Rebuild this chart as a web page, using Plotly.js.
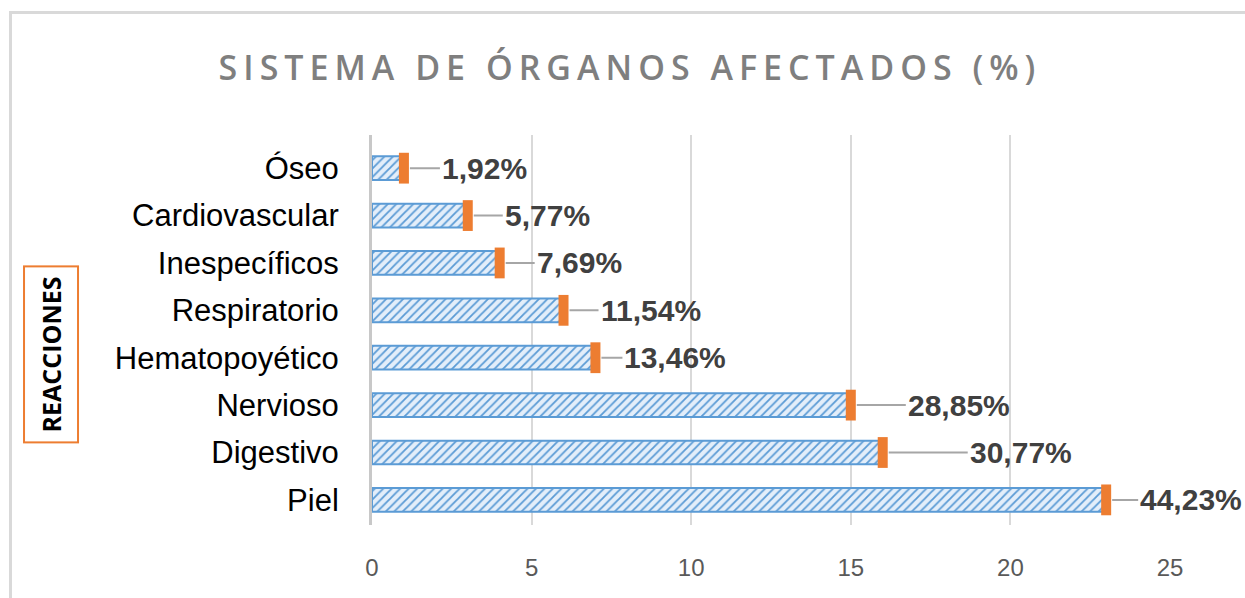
<!DOCTYPE html>
<html>
<head>
<meta charset="utf-8">
<script src="https://cdn.plot.ly/plotly-3.0.1.min.js"></script>
<style>
  html, body { margin: 0; padding: 0; background: #fff; overflow: hidden; }
  #chart { position: fixed; left: 0; top: 0; width: 1245px; height: 598px; }
  .gtitle { letter-spacing: 6px; }
</style>
</head>
<body>
<div id="chart"></div>
<script>
// Data (bottom to top)
const categories = ['Piel', 'Digestivo', 'Nervioso', 'Hematopoyético', 'Respiratorio', 'Inespecíficos', 'Cardiovascular', 'Óseo'];
const counts = [23, 16, 15, 7, 6, 4, 3, 1];
const percentLabels = ['44,23%', '30,77%', '28,85%', '13,46%', '11,54%', '7,69%', '5,77%', '1,92%'];
const xTicks = [0, 5, 10, 15, 20, 25];

// Styling only: horizontal offset (px) of each data label from its bar end
const labelShift = [32, 85, 55, 27, 35, 35, 35, 36];

const W = 1245, H = 598, M = { l: 372, r: 75, t: 135, b: 73 };
const pw = W - M.l - M.r, ph = H - M.t - M.b;
const px2paperX = px => (px - M.l) / pw;
const px2paperY = py => (H - M.b - py) / ph;

const bars = {
  type: 'bar',
  orientation: 'h',
  y: categories,
  x: counts,
  width: 0.5,
  marker: {
    color: '#deebf7',
    pattern: { shape: '/', fgcolor: '#5b9bd5', bgcolor: '#e3eefa', size: 6, solidity: 0.3 },
    line: { color: '#5b9bd5', width: 2 }
  },
  hoverinfo: 'skip'
};

const caps = {
  type: 'scatter',
  mode: 'markers',
  y: categories,
  x: counts,
  marker: { symbol: 'line-ns', size: 22, line: { color: '#ed7d31', width: 10 } },
  hoverinfo: 'skip',
  cliponaxis: false
};

const annotations = categories.map((c, i) => ({
  x: counts[i], y: c, xref: 'x', yref: 'y',
  text: percentLabels[i],
  showarrow: true, arrowhead: 0, arrowwidth: 2, arrowcolor: '#a6a6a6',
  ax: labelShift[i], ay: 0, xanchor: 'left', standoff: 6,
  font: { family: 'Liberation Sans, Arial, sans-serif', size: 30, color: '#404040', weight: 'bold' }
}));

annotations.push({
  xref: 'paper', yref: 'paper', x: -0.402, y: 0.438,
  xanchor: 'center', yanchor: 'middle',
  text: 'REACCIONES', showarrow: false, textangle: -90,
  font: { family: 'Open Sans, sans-serif', size: 25, color: '#000000', weight: 'bold' },
  bordercolor: '#ed7d31', borderwidth: 2, borderpad: 9, bgcolor: '#ffffff'
});

// Outer chart frame (left and top edges visible)
const shapes = [
  { type: 'line', xref: 'paper', yref: 'paper', layer: 'below',
    x0: px2paperX(10.5), x1: px2paperX(10.5), y0: px2paperY(12), y1: px2paperY(H + 5),
    line: { color: '#d9d9d9', width: 3 } },
  { type: 'line', xref: 'paper', yref: 'paper', layer: 'below',
    x0: px2paperX(9), x1: px2paperX(W + 5), y0: px2paperY(12.5), y1: px2paperY(12.5),
    line: { color: '#d9d9d9', width: 3 } }
];

const layout = {
  width: W, height: H,
  margin: M,
  paper_bgcolor: '#ffffff',
  plot_bgcolor: 'rgba(0,0,0,0)',
  showlegend: false,
  title: {
    text: 'SISTEMA DE ÓRGANOS AFECTADOS (%)',
    xref: 'container', yref: 'container', x: 0.506, y: 0.886, xanchor: 'center', yanchor: 'middle',
    font: { family: 'Open Sans, sans-serif', size: 34, color: '#7f7f7f', weight: 600 }
  },
  xaxis: {
    range: [0, 25],
    tickvals: xTicks,
    ticktext: xTicks.map(String),
    showgrid: true, gridcolor: '#d9d9d9', gridwidth: 2,
    zeroline: false, showline: false, ticks: '',
    ticklabelstandoff: 26,
    tickfont: { family: 'Liberation Sans, Arial, sans-serif', size: 24, color: '#595959' },
    fixedrange: true
  },
  yaxis: {
    type: 'category',
    range: [-0.53, 7.7],
    showgrid: false, zeroline: false,
    showline: true, linecolor: '#c8c8c8', linewidth: 3,
    ticks: '', ticklabelstandoff: 24,
    tickfont: { family: 'Liberation Sans, Arial, sans-serif', size: 31, color: '#000000' },
    fixedrange: true
  },
  shapes: shapes,
  annotations: annotations
};

Plotly.newPlot('chart', [bars, caps], layout, { displayModeBar: false, staticPlot: true });
</script>
</body>
</html>
